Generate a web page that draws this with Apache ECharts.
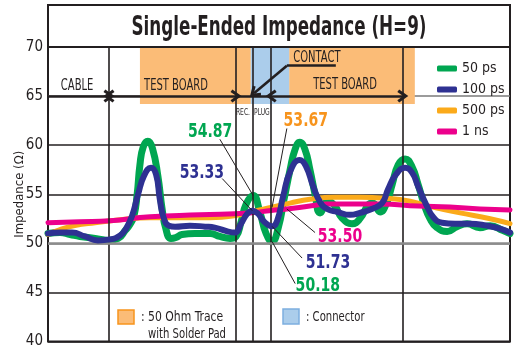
<!DOCTYPE html>
<html>
<head>
<meta charset="utf-8">
<script src="https://cdn.jsdelivr.net/npm/echarts@6/dist/echarts.min.js"></script>
<style>
  html, body { margin: 0; padding: 0; background: #fff; }
  #chart { width: 514px; height: 349px; }
</style>
</head>
<body>
<div id="chart"></div>
<script>
// ---- data -----------------------------------------------------------------
// x: position along the trace (0-100 % of the time window), y: impedance in ohms
const seriesNames = ['50 ps', '100 ps', '500 ps', '1 ns'];

const rise50ps = [
  [0, 51.0], [2.6, 51.1], [4.8, 50.9], [6.9, 50.7], [10.2, 50.5], [13.0, 50.3],
  [15.2, 50.5], [16.7, 51.3], [17.7, 51.9], [18.6, 52.8], [19.3, 55.0], [19.9, 58.0],
  [20.6, 59.8], [21.6, 60.4], [22.6, 59.7], [23.8, 56.8], [24.7, 53.5], [25.5, 51.5],
  [26.6, 50.5], [27.7, 50.6], [29.0, 50.9], [31.8, 51.0], [35.1, 51.0], [37.2, 50.7],
  [39.4, 50.5], [40.7, 50.7], [41.8, 52.2], [42.9, 54.0], [44.4, 54.87], [45.9, 53.1],
  [47.2, 51.0], [48.5, 50.18], [49.8, 51.5], [51.1, 54.5], [52.4, 57.5], [53.5, 59.6],
  [54.5, 60.3], [55.6, 59.6], [56.7, 57.5], [57.8, 55.0], [58.9, 53.1], [60.6, 54.3],
  [62.1, 53.8], [63.6, 52.6], [65.8, 52.0], [67.5, 52.5], [69.3, 53.9], [70.3, 54.1],
  [71.9, 53.2], [73.2, 54.0], [74.5, 56.0], [75.8, 58.0], [77.3, 58.6], [78.8, 57.8],
  [80.1, 56.0], [81.4, 54.0], [82.7, 52.5], [84.2, 51.6], [86.4, 51.2], [88.5, 51.7],
  [90.7, 52.0], [93.5, 51.6], [95.7, 51.8], [98.5, 51.3], [100, 51.0]
];

const rise100ps = [
  [0, 51.0], [2.6, 51.1], [5.2, 51.1], [8.0, 50.7], [10.8, 50.3], [13.4, 50.4],
  [15.6, 50.8], [16.9, 51.5], [18.2, 52.8], [19.5, 55.0], [20.8, 56.9], [22.3, 57.7],
  [23.4, 57.0], [24.2, 54.5], [25.1, 52.5], [26.2, 51.8], [27.5, 51.7], [30.7, 51.8],
  [34.0, 51.7], [36.1, 51.6], [39.0, 51.2], [40.5, 51.1], [41.8, 52.0], [43.1, 53.0],
  [44.2, 53.33], [45.5, 53.0], [46.8, 52.2], [48.5, 51.73], [49.6, 52.3], [50.9, 54.8],
  [52.4, 57.3], [54.5, 58.5], [55.8, 57.9], [57.4, 55.8], [58.9, 54.2], [60.4, 53.5],
  [62.6, 53.2], [65.4, 52.9], [67.5, 53.1], [70.1, 53.5], [72.3, 54.1], [73.6, 55.5],
  [75.3, 57.0], [77.3, 57.7], [78.8, 57.2], [80.1, 55.8], [81.8, 54.0], [83.5, 52.6],
  [85.3, 52.1], [88.1, 52.0], [91.3, 52.0], [95.0, 51.8], [97.8, 51.5], [100, 51.1]
];

const rise500ps = [
  [0, 50.9], [2.6, 51.4], [5.8, 51.8], [10.2, 52.1], [15.6, 52.4], [22.1, 52.6],
  [28.6, 52.6], [35.1, 52.6], [41.6, 52.9], [44.8, 53.3], [48.5, 53.67], [52.4, 54.1],
  [56.7, 54.5], [62.1, 54.7], [67.5, 54.7], [72.9, 54.6], [78.4, 54.3], [81.4, 53.9],
  [84.2, 53.6], [89.2, 53.1], [95.7, 52.5], [100, 52.0]
];

const rise1ns = [
  [0, 52.1], [6.9, 52.2], [13.4, 52.3], [22.1, 52.7], [32.9, 52.9], [43.7, 53.1],
  [48.3, 53.35], [51.7, 53.5], [56.7, 53.8], [60.4, 54.0], [71.9, 54.0], [80.1, 53.8],
  [87.0, 53.7], [93.5, 53.5], [100, 53.4]
];

const yTicks = [40, 45, 50, 55, 60, 65, 70];

// section boundaries: cable | test board | rec. | plug | test board | ...
const sectionBounds = [13.2, 40.7, 44.4, 48.3, 76.8];
const boardSpans = [[19.9, 43.9], [52.2, 79.4]];
const connectorSpan = [43.9, 52.2];

// ---- layout & style -------------------------------------------------------
const FONT = "'DejaVu Sans Condensed','Liberation Sans',sans-serif";
const INK = '#231F20';
const colors = {
  '50 ps': '#00A651',
  '100 ps': '#2E3192',
  '500 ps': '#FBAA1A',
  '1 ns': '#EC008C'
};
const widths = { '50 ps': 7, '100 ps': 6, '500 ps': 5, '1 ns': 5 };
const dataByName = {
  '50 ps': rise50ps, '100 ps': rise100ps, '500 ps': rise500ps, '1 ns': rise1ns
};

const bandTop = 70, bandBottom = 64.2, arrowRow = 65;

// text placed inside the plot (position in axis units)
const sectionLabels = [
  { text: 'CABLE', at: [6.3, 66.3], size: 15 },
  { text: 'TEST BOARD', at: [27.7, 66.3], size: 15 },
  { text: 'TEST BOARD', at: [64.3, 66.4], size: 15 },
  { text: 'CONTACT', at: [58.2, 69.2], size: 15 },
  { text: 'REC.', at: [42.2, 63.5], size: 9 },
  { text: 'PLUG', at: [46.3, 63.5], size: 9 }
];

// value call-outs: which curve, at which x, where the number sits, where the leader starts
const callouts = [
  { series: '50 ps',  x: 44.4, text: [35.1, 61.7], lead: [37.2, 60.6] },
  { series: '100 ps', x: 44.2, text: [33.3, 57.5], lead: [37.7, 56.6] },
  { series: '500 ps', x: 48.5, text: [55.8, 62.8], lead: [51.7, 61.7], color: '#F7941D' },
  { series: '1 ns',   x: 51.7, text: [63.2, 51.0], lead: [57.8, 51.1] },
  { series: '100 ps', x: 48.5, text: [60.6, 48.3], lead: [55.0, 48.5] },
  { series: '50 ps',  x: 48.5, text: [58.4, 46.0], lead: [53.5, 45.9] }
];

const chevron = 'path://M0,9 L7,0 L14,9 L11.4,10.8 L7,5 L2.6,10.8 Z';

function valueAt(name, x) {
  const p = dataByName[name].find(d => d[0] === x);
  return p ? p[1] : null;
}

function arrowSeg(x0, y0, x1, y1, headStart, headEnd) {
  return [
    { coord: [x0, y0], symbol: headStart ? chevron : 'none', symbolSize: [13, 11] },
    { coord: [x1, y1], symbol: headEnd ? chevron : 'none', symbolSize: [13, 11] }
  ];
}

// condensed-looking centred text; the small drop puts the cap height on the anchor
function narrowText(text, x, y, size, color, bold, squeeze) {
  return {
    type: 'text', x: x, y: y + Math.round(size * 0.17), scaleX: squeeze,
    style: { text: text, fontFamily: FONT, fontSize: size,
             fontWeight: bold ? 'bold' : 'normal', fill: color,
             align: 'center', verticalAlign: 'middle' }
  };
}

const chart = echarts.init(document.getElementById('chart'), null, { renderer: 'canvas' });

const curveSeries = seriesNames.map(name => ({
  name: name,
  type: 'line',
  data: dataByName[name],
  smooth: 0.5,
  symbol: 'none',
  z: { '50 ps': 3, '100 ps': 5, '500 ps': 4, '1 ns': 4.5 }[name],
  color: colors[name],
  lineStyle: { color: colors[name], width: widths[name], cap: 'round', join: 'round' },
  emphasis: { disabled: true }
}));

const option = {
  animation: false,
  backgroundColor: '#fff',
  grid: { left: 48, right: 4, top: 47, bottom: 1, show: true, borderColor: INK, borderWidth: 2 },
  xAxis: {
    type: 'value', min: 0, max: 100,
    axisLine: { show: false }, axisTick: { show: false },
    axisLabel: { show: false }, splitLine: { show: false }
  },
  yAxis: {
    type: 'value', min: yTicks[0], max: yTicks[yTicks.length - 1], interval: 5,
    name: 'Impedance (Ω)', nameLocation: 'middle', nameGap: 22, nameMoveOverlap: false,
    nameTextStyle: { fontFamily: FONT, fontSize: 13, color: INK },
    axisLine: { show: false }, axisTick: { show: false },
    axisLabel: { fontFamily: FONT, fontSize: 15, color: INK, margin: 5 },
    splitLine: { show: true, lineStyle: { width: 1.5,
      color: [INK, INK, '#8c8c8c', INK, INK, '#7a7a7a', INK] } }
  },
  legend: {
    data: seriesNames,
    orient: 'vertical', left: 437, top: 61, padding: 0,
    itemWidth: 20, itemHeight: 6, itemGap: 6, itemTextGap: 5, icon: 'roundRect',
    textStyle: { fontFamily: FONT, fontSize: 14, color: INK, lineHeight: 15 }
  },
  graphic: [
    { type: 'rect', shape: { x: 48, y: 5, width: 462, height: 42 },
      style: { fill: 'none', stroke: INK, lineWidth: 2 }, z: 10 },
    Object.assign(narrowText('Single-Ended Impedance (H=9)', 279, 23, 27, INK, true, 0.69), { z: 10 }),
    { type: 'rect', shape: { x: 118, y: 310, width: 16, height: 14 },
      style: { fill: '#FBBC77', stroke: '#F7941D', lineWidth: 1.5 }, z: 10 },
    { type: 'text', x: 141, y: 317, scaleX: 0.86,
      style: { text: ': 50 Ohm Trace', fontFamily: FONT, fontSize: 14, fill: INK,
               verticalAlign: 'middle' }, z: 10 },
    { type: 'text', x: 148, y: 334, scaleX: 0.8,
      style: { text: 'with Solder Pad', fontFamily: FONT, fontSize: 14, fill: INK,
               verticalAlign: 'middle' }, z: 10 },
    { type: 'rect', shape: { x: 283, y: 309, width: 16, height: 15 },
      style: { fill: '#ABCDEB', stroke: '#7DAFDF', lineWidth: 1.5 }, z: 10 },
    { type: 'text', x: 306, y: 317, scaleX: 0.8,
      style: { text: ': Connector', fontFamily: FONT, fontSize: 14, fill: INK,
               verticalAlign: 'middle' }, z: 10 }
  ],
  series: [
    // shaded sections of the board under test
    {
      type: 'line', data: [], z: 1, silent: true,
      markArea: {
        silent: true,
        data: boardSpans.map(s => [
          { coord: [s[0], bandTop], itemStyle: { color: '#FBBC77' } },
          { coord: [s[1], bandBottom] }
        ]).concat([[
          { coord: [connectorSpan[0], bandTop], itemStyle: { color: '#ABCDEB' } },
          { coord: [connectorSpan[1], bandBottom] }
        ]])
      }
    },
    // section boundaries and reference line
    {
      type: 'line', data: [], z: 2, silent: true,
      markLine: {
        silent: true, symbol: 'none', animation: false,
        label: { show: false },
        lineStyle: { color: INK, width: 1.6, type: 'solid' },
        data: sectionBounds.map(x => ({ xAxis: x }))
          .concat([{ yAxis: 50, lineStyle: { color: '#8c8c8c', width: 2.5, type: 'solid' } }])
      }
    },
    // section arrows
    {
      type: 'line', data: [], z: 6, silent: true,
      markLine: {
        silent: true, animation: false,
        label: { show: false },
        lineStyle: { color: INK, width: 2.6, type: 'solid' },
        itemStyle: { color: INK },
        data: [
          arrowSeg(0, arrowRow, sectionBounds[0], arrowRow, false, true),
          arrowSeg(sectionBounds[0], arrowRow, sectionBounds[1], arrowRow, true, true),
          arrowSeg(sectionBounds[1], arrowRow, sectionBounds[3], arrowRow, false, false),
          arrowSeg(sectionBounds[3], arrowRow, sectionBounds[4], arrowRow, true, true),
          arrowSeg(62.3, 68.1, 51.7, 68.1, false, false),
          arrowSeg(51.7, 68.1, 44.6, 65.3, false, true)
        ]
      }
    },
    // section names
    {
      type: 'custom', coordinateSystem: 'cartesian2d', z: 6, silent: true, clip: false,
      data: sectionLabels.map(s => s.at),
      renderItem: (params, api) => {
        const s = sectionLabels[params.dataIndex];
        const p = api.coord(s.at);
        return narrowText(s.text, p[0], p[1], s.size, INK, false, 0.74);
      }
    },
    ...curveSeries,
    // value call-outs with leader lines
    {
      type: 'custom', coordinateSystem: 'cartesian2d', z: 7, silent: true, clip: false,
      data: callouts.map(c => [c.x, valueAt(c.series, c.x)]),
      renderItem: (params, api) => {
        const c = callouts[params.dataIndex];
        const v = api.value(1);
        const target = api.coord([api.value(0), v]);
        const from = api.coord(c.lead);
        const at = api.coord(c.text);
        return {
          type: 'group',
          children: [
            { type: 'line', shape: { x1: from[0], y1: from[1], x2: target[0], y2: target[1] },
              style: { stroke: INK, lineWidth: 1 } },
            narrowText(v.toFixed(2), at[0], at[1], 20, c.color || colors[c.series], true, 0.78)
          ]
        };
      }
    }
  ]
};

chart.setOption(option);
</script>
</body>
</html>
